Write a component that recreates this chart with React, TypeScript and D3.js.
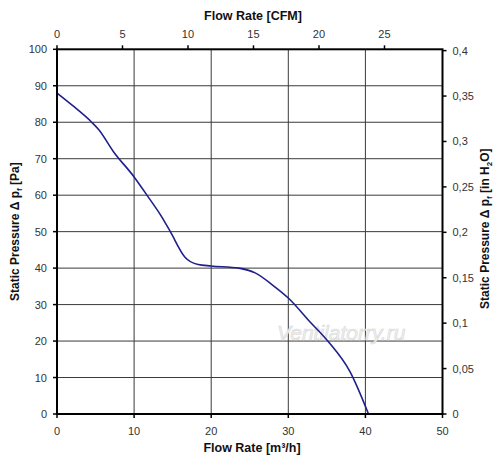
import React from "react";
import * as d3 from "d3";

const flowM3h = [0, 2, 4.5, 5.4, 7.3, 10, 11.8, 13.6, 14.7, 16.6, 18.3, 20, 23.6, 25.7, 28, 30, 32.8, 35.2, 38, 40.4];
const pressurePa = [88, 84.6, 80, 78, 72, 65, 59.6, 54, 50, 43, 41, 40.6, 40, 38.7, 35.3, 31.8, 25.3, 19.8, 11.6, 0];

const bottomTicks = [0, 10, 20, 30, 40, 50];
const topTicks = [0, 5, 10, 15, 20, 25];
const leftTicks = [0, 10, 20, 30, 40, 50, 60, 70, 80, 90, 100];
const rightTicks = [0, 0.05, 0.1, 0.15, 0.2, 0.25, 0.3, 0.35, 0.4];

const M3H_PER_CFM = 1.699;
const PA_PER_INH2O = 249.09;

const W = 500;
const H = 468;
const L = 57;
const R = 442.5;
const T = 49.3;
const B = 414;

export default function App() {
  const x = d3.scaleLinear().domain([0, 50]).range([L, R]);
  const xTop = d3.scaleLinear().domain([0, 50 / M3H_PER_CFM]).range([L, R]);
  const y = d3.scaleLinear().domain([0, 100]).range([B, T]);
  const yRight = d3.scaleLinear().domain([0, 100 / PA_PER_INH2O]).range([B, T]);

  const pts: [number, number][] = flowM3h.map((f, i) => [f, pressurePa[i]]);
  const line = d3
    .line<[number, number]>()
    .x((d) => x(d[0]))
    .y((d) => y(d[1]))
    .curve(d3.curveMonotoneX);

  const tickFont = { fontFamily: "Arial, 'Liberation Sans', sans-serif", fontSize: 11, fill: "#333" };
  const labelFont = { fontFamily: "Arial, 'Liberation Sans', sans-serif", fontSize: 12, fontWeight: 700, fill: "#111" };
  const fmtComma = (v: number) => (v === 0 ? "0" : String(+v.toFixed(2)).replace(".", ","));
  const midY = (T + B) / 2;

  return (
    <svg width={W} height={H} style={{ position: "absolute", left: 0, top: 0, background: "#fff" }}>
      <rect x={0} y={0} width={W} height={H} fill="#fff" />
      {/* grid */}
      {bottomTicks.slice(1, -1).map((t) => (
        <line key={"vg" + t} x1={x(t)} x2={x(t)} y1={T} y2={B} stroke="#3a3a3a" strokeWidth={1} />
      ))}
      {leftTicks.slice(1, -1).map((t) => (
        <line key={"hg" + t} x1={L} x2={R} y1={y(t)} y2={y(t)} stroke="#3a3a3a" strokeWidth={1} />
      ))}
      {/* watermark */}
      <text
        x={277}
        y={340}
        fontFamily="Arial, 'Liberation Sans', sans-serif"
        fontStyle="italic"
        fontSize={21}
        fill="#f0f0f0"
        stroke="#d8d8d8"
        strokeWidth={0.6}
      >
        Ventilatorry.ru
      </text>
      {/* curve */}
      <path d={line(pts) || ""} fill="none" stroke="#1f1f8c" strokeWidth={1.6} />
      {/* frame */}
      <rect x={L} y={T} width={R - L} height={B - T} fill="none" stroke="#000" strokeWidth={2} />
      {/* bottom axis */}
      {bottomTicks.map((t) => (
        <g key={"b" + t}>
          <line x1={x(t)} x2={x(t)} y1={B} y2={B + 4} stroke="#000" strokeWidth={1.5} />
          <text x={x(t)} y={B + 21} textAnchor="middle" {...tickFont}>
            {t}
          </text>
        </g>
      ))}
      {/* top axis */}
      {topTicks.map((t) => (
        <g key={"t" + t}>
          <line x1={xTop(t)} x2={xTop(t)} y1={T} y2={T - 4} stroke="#000" strokeWidth={1.5} />
          <text x={xTop(t)} y={T - 11} textAnchor="middle" {...tickFont}>
            {t}
          </text>
        </g>
      ))}
      {/* left axis */}
      {leftTicks.map((t) => (
        <g key={"l" + t}>
          <line x1={L} x2={L - 4} y1={y(t)} y2={y(t)} stroke="#000" strokeWidth={1.5} />
          <text x={L - 10} y={y(t) + 4} textAnchor="end" {...tickFont}>
            {t}
          </text>
        </g>
      ))}
      {/* right axis */}
      {rightTicks.map((t) => (
        <g key={"r" + t}>
          <line x1={R} x2={R + 4} y1={yRight(t)} y2={yRight(t)} stroke="#000" strokeWidth={1.5} />
          <text x={R + 10} y={yRight(t) + 4} textAnchor="start" {...tickFont}>
            {fmtComma(t)}
          </text>
        </g>
      ))}
      {/* titles */}
      <text x={253} y={20} textAnchor="middle" {...labelFont} fontSize={12.5}>
        Flow Rate [CFM]
      </text>
      <text x={252} y={452} textAnchor="middle" {...labelFont} fontSize={12.5}>
        Flow Rate [m³/h]
      </text>
      <text transform={`translate(19, ${midY}) rotate(-90)`} textAnchor="middle" {...labelFont}>
        Static Pressure Δ p
        <tspan fontSize={8} dy={3}>f</tspan>
        <tspan dy={-3}> [Pa]</tspan>
      </text>
      <text transform={`translate(489, ${midY - 3}) rotate(-90)`} textAnchor="middle" {...labelFont}>
        Static Pressure Δ p
        <tspan fontSize={8} dy={3}>f</tspan>
        <tspan dy={-3}> [in H</tspan>
        <tspan fontSize={8} dy={3}>2</tspan>
        <tspan dy={-3}>O]</tspan>
      </text>
    </svg>
  );
}
